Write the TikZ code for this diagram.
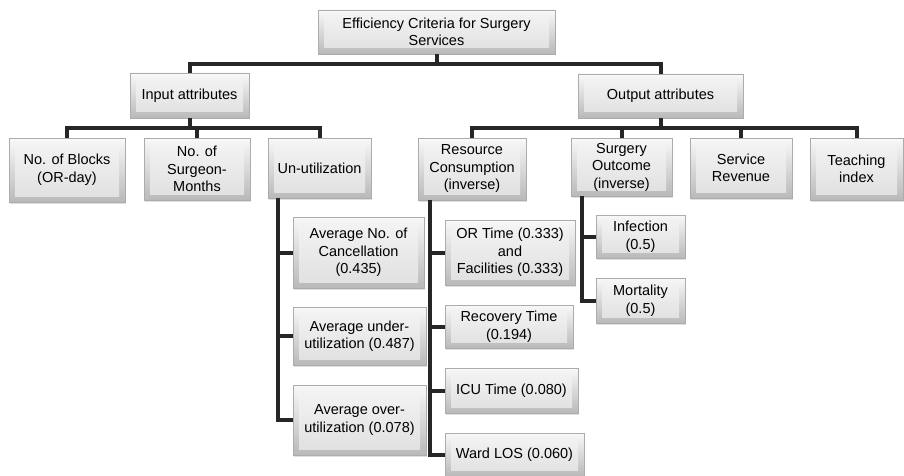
\documentclass[tikz,border=0pt]{standalone}
\usepackage{fontspec}
\setmainfont{Liberation Sans}
\usetikzlibrary{shadows}
\begin{document}
\begin{tikzpicture}[x=1pt,y=-1pt, every node/.style={font=\fontsize{14.5}{17.5}\selectfont},
  crit/.style={draw=gray!65,line width=0.6pt,top color=gray!5,bottom color=gray!55,align=center,inner sep=2pt,
    drop shadow={opacity=0.25,shadow xshift=1.2pt,shadow yshift=-1.5pt},
    path picture={\fill[top color=gray!8,bottom color=gray!25] ([shift={(6pt,6pt)}]path picture bounding box.south west) rectangle ([shift={(-6pt,-6pt)}]path picture bounding box.north east);}},
  link/.style={line width=4pt,black!85}]
\useasboundingbox (0,0) rectangle (904,476);
% top levels
\node[crit,minimum width=237,minimum height=44] (root) at (436.5,32) {Efficiency Criteria for Surgery\\ Services};
\node[crit,minimum width=119,minimum height=45] (inp) at (189.5,95.5) {Input attributes};
\node[crit,minimum width=165,minimum height=44] (outp) at (660.5,96) {Output attributes};
\draw[link] (root.south) -- ++(0,10) -| (inp.north);
\draw[link] (root.south) -- ++(0,10) -| (outp.north);
% input attributes
\node[crit,minimum width=116,minimum height=64] (blocks) at (67,170) {No. of Blocks\\ (OR-day)};
\node[crit,minimum width=106,minimum height=62] (surgm) at (197,169) {No. of\\ Surgeon-\\ Months};
\node[crit,minimum width=103,minimum height=60] (unut) at (319.5,168) {Un-utilization};
\foreach \c in {blocks,surgm,unut} \draw[link] (inp.south) -- ++(0,10) -| (\c.north);
% output attributes
\node[crit,minimum width=108,minimum height=62] (rescons) at (472,169) {Resource\\ Consumption\\ (inverse)};
\node[crit,minimum width=101,minimum height=58] (outc) at (621.5,167) {Surgery\\ Outcome\\ (inverse)};
\node[crit,minimum width=102,minimum height=60] (revenue) at (741,168) {Service\\ Revenue};
\node[crit,minimum width=93,minimum height=62] (teach) at (856.5,169) {Teaching\\ index};
\foreach \c in {rescons,outc,revenue,teach} \draw[link] (outp.south) -- ++(0,10) -| (\c.north);
% un-utilization
\node[crit,minimum width=131,minimum height=71] (cancel) at (358.5,252.5) {Average No. of\\ Cancellation\\ (0.435)};
\node[crit,minimum width=133,minimum height=58] (under) at (359.5,336) {Average under-\\ utilization (0.487)};
\node[crit,minimum width=133,minimum height=70] (over) at (359.5,420) {Average over-\\ utilization (0.078)};
\foreach \c in {cancel,under,over} \draw[link] ([xshift=10pt]unut.south west) |- (\c.west);
% resource consumption
\node[crit,minimum width=130,minimum height=65] (ortime) at (510,252.5) {OR Time (0.333)\\ and\\ Facilities (0.333)};
\node[crit,minimum width=128,minimum height=43] (recov) at (509,326.5) {Recovery Time\\ (0.194)};
\node[crit,minimum width=133,minimum height=45] (icu) at (511.5,390.5) {ICU Time (0.080)};
\node[crit,minimum width=139,minimum height=43] (ward) at (514.5,454.5) {Ward LOS (0.060)};
\foreach \c in {ortime,recov,icu,ward} \draw[link] ([xshift=12pt]rescons.south west) |- (\c.west);
% surgery outcome
\node[crit,minimum width=89,minimum height=43] (infect) at (640.5,236.5) {Infection\\ (0.5)};
\node[crit,minimum width=89,minimum height=45] (mortal) at (640.5,300.5) {Mortality\\ (0.5)};
\foreach \c in {infect,mortal} \draw[link] ([xshift=11pt]outc.south west) |- (\c.west);
\end{tikzpicture}
\end{document}
